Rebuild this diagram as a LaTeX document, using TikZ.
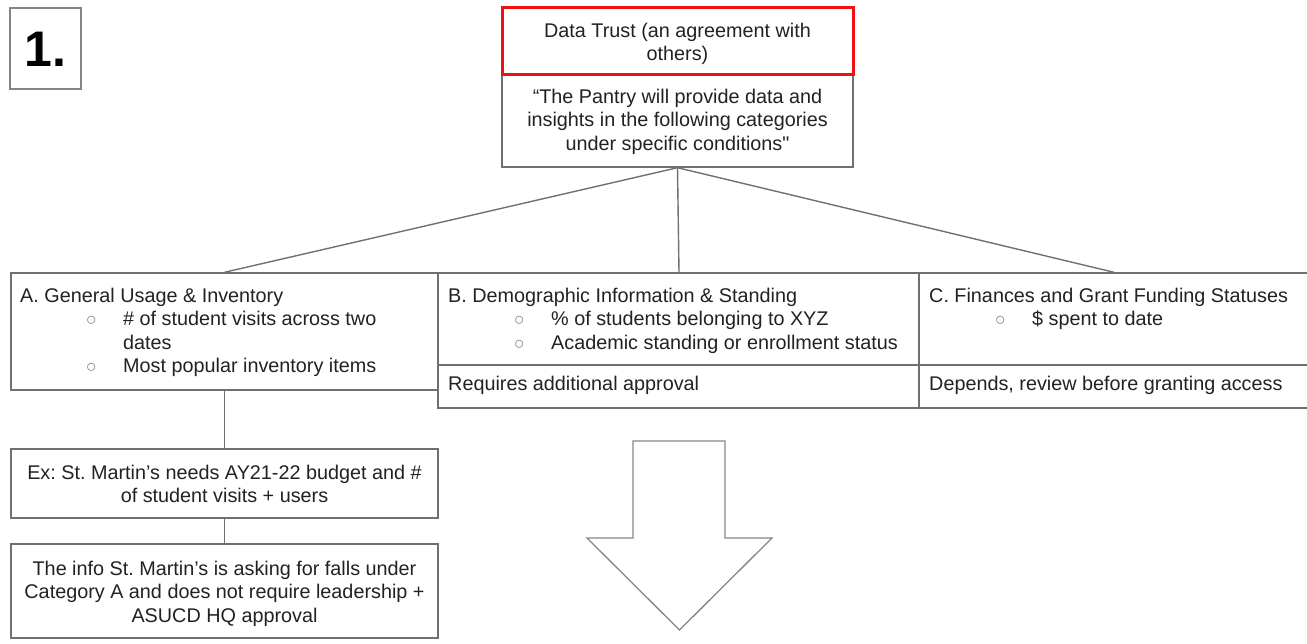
\documentclass[tikz,border=0pt]{standalone}
\usepackage{fontspec}
\setmainfont{Liberation Sans}
\frenchspacing
\definecolor{edge}{HTML}{707070}
\definecolor{ink}{HTML}{222222}
\definecolor{trust}{HTML}{EE1111}
\definecolor{dot}{HTML}{8A8A8A}
% indented sub-bullet line
\newcommand\bulletline{\hspace*{66pt}\makebox[37pt][l]{\textcolor{dot}{$\circ$}}}
\begin{document}
\begin{tikzpicture}[x=1pt,y=-1pt,
  box/.style={draw=edge, line width=1.4pt, inner sep=0pt, fill=white},
  conn/.style={draw=edge, line width=1.4pt},
  txt/.style={inner sep=0pt, text=ink, font=\fontsize{19.8}{23.5}\selectfont},
  lefttxt/.style={txt, align=left, anchor=north west},
  midtxt/.style={txt, align=center, anchor=north}]
\useasboundingbox (0,0) rectangle (1307,644);

% section number
\node[box, draw=edge!85, minimum width=71pt, minimum height=81pt] (one) at (45.5,48.5) {};
\node[inner sep=0pt, anchor=base, font=\fontsize{50}{50}\selectfont\bfseries] (onet) at (45.5,67) {1.};

% root: agreement and its statement
\node[box, minimum width=351pt, minimum height=92pt] (P) at (677.5,121) {};
\node[box, draw=trust, line width=3pt, minimum width=351pt, minimum height=67pt] (T) at (677.5,41.5) {};
\node[midtxt] (Tt) at (677.5,20.5) {\strut Data Trust (an agreement with\\others)};
\node[midtxt] (Pt) at (677.5,86.5) {\strut “The Pantry will provide data and\\insights in the following categories\\under specific conditions\textquotedbl};

% category boxes
\node[box, minimum width=427pt, minimum height=117pt] (A) at (224.5,331.5) {};
\node[box, minimum width=482pt, minimum height=92pt] (Btop) at (679,319) {};
\node[box, minimum width=482pt, minimum height=43pt] (Bbot) at (679,386.5) {};
\node[box, minimum width=390pt, minimum height=92pt] (Ctop) at (1114,319) {};
\node[box, minimum width=390pt, minimum height=43pt] (Cbot) at (1114,386.5) {};

\node[lefttxt] (At) at (20,285.5) {\strut A. General Usage \& Inventory\\
  \bulletline\# of student visits across two\\
  \hspace*{103pt}dates\\
  \bulletline Most popular inventory items};
\node[lefttxt] (Bt) at (448,285.5) {\strut B. Demographic Information \& Standing\\
  \bulletline\% of students belonging to XYZ\\
  \bulletline Academic standing or enrollment status};
\node[lefttxt] (Bn) at (448,374) {\strut Requires additional approval};
\node[lefttxt] (Ct) at (929,285.5) {\strut C. Finances and Grant Funding Statuses\\
  \bulletline\$ spent to date};
\node[lefttxt] (Cn) at (929,374) {\strut Depends, review before granting access};

% worked example
\node[box, minimum width=427pt, minimum height=69pt] (Ex) at (224.5,483.5) {};
\node[midtxt] (Ext) at (224.5,462.5) {\strut Ex: St. Martin’s needs AY21-22 budget and \#\\of student visits + users};
\node[box, minimum width=427pt, minimum height=94pt] (Info) at (224.5,591) {};
\node[midtxt] (Infot) at (224.5,558.5) {\strut The info St. Martin’s is asking for falls under\\Category A and does not require leadership +\\ASUCD HQ approval};

% connectors
\draw[conn] (P.south) -- (A.north);
\draw[conn] (P.south) -- (Btop.north);
\draw[conn] (P.south) -- (Ctop.north);
\draw[conn] (A.south) -- (Ex.north);
\draw[conn] (Ex.south) -- (Info.north);

% block arrow
\draw[draw=edge!85, line width=1.3pt, line join=miter]
  (633,441) -- (725,441) -- (725,538) -- (772,538) -- (679.5,630)
  -- (587,538) -- (633,538) -- cycle;
\end{tikzpicture}
\end{document}
